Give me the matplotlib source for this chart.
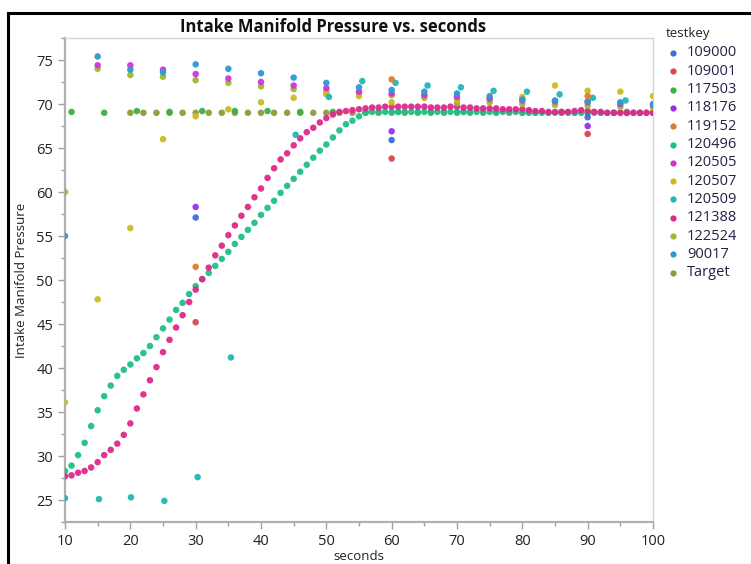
import matplotlib
matplotlib.use("Agg")
import matplotlib.pyplot as plt
import numpy as np
from matplotlib.lines import Line2D

plt.rcParams['font.family'] = ['Liberation Sans Narrow', 'Open Sans', 'DejaVu Sans']

# per-second runs
sec_1s = list(range(10, 101))
ip_121388 = [27.7, 27.8, 28.1, 28.3, 28.7, 29.3, 30.1, 30.7, 31.4, 32.4,
             33.7, 35.4, 37.0, 38.6, 40.1, 41.8, 43.2, 44.6, 46.0, 47.5,
             48.9, 50.1, 51.4, 52.8, 53.9, 55.1, 56.2, 57.3, 58.3, 59.4,
             60.4, 61.6, 62.7, 63.7, 64.4, 65.3, 66.1, 66.8, 67.3, 67.9,
             68.4, 68.8, 69.1, 69.2, 69.3, 69.4, 69.5, 69.6, 69.6, 69.7,
             69.7, 69.7, 69.7, 69.7, 69.7, 69.7, 69.6, 69.6, 69.6, 69.7,
             69.7, 69.6, 69.6, 69.5, 69.5, 69.5, 69.5, 69.4, 69.4, 69.4,
             69.4, 69.3, 69.2, 69.2, 69.1, 69.1, 69.1, 69.1, 69.2, 69.3,
             69.2, 69.1, 69.1, 69.0, 69.0, 69.0, 69.0, 69.0, 69.0, 69.0, 69.0]
ip_120496 = [28.3, 28.9, 30.1, 31.5, 33.4, 35.2, 36.8, 38.0, 39.1, 39.8,
             40.4, 41.1, 41.7, 42.5, 43.5, 44.5, 45.5, 46.6, 47.4, 48.4,
             49.3, 50.1, 50.8, 51.6, 52.4, 53.2, 54.1, 54.9, 55.7, 56.5,
             57.4, 58.2, 59.0, 59.9, 60.7, 61.5, 62.3, 63.1, 63.9, 64.7,
             65.4, 66.2, 67.0, 67.7, 68.1, 68.6, 69.0, 69.1, 69.1, 69.1,
             69.1, 69.1, 69.1, 69.1, 69.1, 69.1, 69.1, 69.1, 69.1, 69.1,
             69.1, 69.1, 69.1, 69.1, 69.1, 69.1, 69.1, 69.1, 69.1, 69.1,
             69.0, 69.0, 69.0, 69.0, 69.0, 69.0, 69.0, 69.0, 69.0, 69.0,
             69.0, 69.0, 69.0, 69.0, 69.0, 69.0, 69.0, 69.0, 69.0, 69.0, 69.0]

# 5-second runs
sec_5s = [10, 15, 20, 25, 30, 35, 40, 45, 50, 55, 60, 65, 70, 75, 80, 85, 90, 95, 100]
ip_90017 = [55.0, 75.4, 73.9, 73.6, 74.5, 74.0, 73.5, 73.0, 72.4, 71.9,
            71.6, 71.4, 71.2, 70.9, 70.5, 70.4, 70.3, 70.2, 70.0]
ip_122524 = [60.0, 74.0, 73.3, 73.1, 72.7, 72.4, 72.0, 71.7, 71.4, 71.2,
             71.0, 70.7, 70.1, 70.2, 70.0, 69.9, 69.8, 69.7, 69.6]
ip_120507 = [36.1, 47.8, 55.9, 66.0, 68.6, 69.4, 70.2, 70.7, 71.1, 70.9,
             70.2, 70.9, 70.5, 70.6, 70.8, 72.1, 71.5, 71.4, 70.9]
sec_120505 = [15, 20, 25, 30, 35, 40, 45, 50, 55, 60, 65, 70, 75, 80, 85, 90, 95, 100]
ip_120505 = [74.4, 74.4, 73.9, 73.4, 72.9, 72.5, 72.1, 71.8, 71.4, 71.2,
             71.0, 70.8, 70.6, 70.4, 70.3, 70.2, 70.0, 69.9]

sec_120509 = [10.0, 15.2, 20.1, 25.2, 30.3, 35.4, 45.3, 50.4, 55.5, 60.6,
              65.5, 70.6, 75.6, 80.7, 85.7, 90.8, 95.8]
ip_120509 = [25.2, 25.1, 25.3, 24.9, 27.6, 41.2, 66.5, 70.8, 72.6, 72.4,
             72.1, 71.9, 71.5, 71.4, 71.1, 70.7, 70.4]

sec_117503 = [11, 16, 21, 26, 31, 36, 41, 46, 51, 56, 61, 66, 71, 76, 81, 86, 91, 96]
ip_117503 = [69.1, 69.0, 69.2, 69.1, 69.2, 69.2, 69.2, 69.1, 69.1, 69.1,
             69.1, 69.1, 69.1, 69.1, 69.1, 69.1, 69.1, 69.1]

# sparse runs (30, 60, 90 s)
sec_sparse = [30, 60, 90]
ip_109000 = [57.1, 65.9, 68.5]
ip_109001 = [45.2, 63.8, 66.6]
ip_118176 = [58.3, 66.9, 67.5]
ip_119152 = [51.5, 72.8, 70.9]

sec_target = list(range(20, 101, 2))
ip_target = [69.0] * len(sec_target)

series = [
    ("109000", sec_sparse, ip_109000, "#3f6cd6"),
    ("109001", sec_sparse, ip_109001, "#dc4452"),
    ("117503", sec_117503, ip_117503, "#3cb043"),
    ("118176", sec_sparse, ip_118176, "#9b30e6"),
    ("119152", sec_sparse, ip_119152, "#e07a2a"),
    ("120496", sec_1s, ip_120496, "#1fbf8a"),
    ("120505", sec_120505, ip_120505, "#cf35d6"),
    ("120507", sec_5s, ip_120507, "#cdbb1f"),
    ("120509", sec_120509, ip_120509, "#23b5b8"),
    ("121388", sec_1s, ip_121388, "#e0288c"),
    ("122524", sec_5s, ip_122524, "#9dbb2c"),
    ("90017", sec_5s, ip_90017, "#2a9ad2"),
    ("Target", sec_target, ip_target, "#8f9b3a"),
]

# draw order: target first, sparse runs on top
draw_order = ["Target", "117503", "120496", "121388", "122524", "120507",
              "120505", "90017", "120509", "119152", "118176", "109000", "109001"]

fig = plt.figure(figsize=(7.51, 5.64), dpi=100, facecolor="white")
ax = fig.add_axes([65 / 751, 1 - 522 / 564, (653 - 65) / 751, (522 - 38) / 564])

lookup = {s[0]: s for s in series}
for name in draw_order:
    _, xs, ys, c = lookup[name]
    ax.scatter(xs, ys, s=22, color=c, edgecolors="none", alpha=0.95, zorder=3)

ax.set_xlim(10, 100)
ax.set_ylim(22.85, 77.5)
ax.set_xticks(np.arange(10, 101, 10))
ax.set_xticks(np.arange(15, 100, 10), minor=True)
ax.set_yticks(np.arange(25, 76, 5))
ax.set_yticks(np.arange(22.5, 77.6, 2.5), minor=True)

for side in ["top", "right"]:
    ax.spines[side].set_color("#d4d4d4")
    ax.spines[side].set_linewidth(1.0)
for side in ["left", "bottom"]:
    ax.spines[side].set_color("#b0b0b0")
    ax.spines[side].set_linewidth(1.6)

ax.tick_params(which="major", length=5, color="#a0a0a0", labelsize=10.5,
               labelcolor="#222222", width=1)
ax.tick_params(which="minor", length=3, color="#a0a0a0", width=1)

ax.set_xlabel("seconds", fontsize=9.5, color="#222222", labelpad=1)
ax.set_ylabel("Intake Manifold Pressure", fontsize=9.5, color="#222222", labelpad=6)

fig.text(333 / 751, 1 - 27 / 564, "Intake Manifold Pressure vs. seconds",
         ha="center", va="center", fontsize=12, fontweight="bold", color="#111111")

# legend
fig.text(666 / 751, 1 - 33 / 564, "testkey", ha="left", va="center",
         fontsize=9.5, color="#222222")
for i, (name, _, _, c) in enumerate(series):
    yy = 1 - (53 + i * 18.3) / 564
    fig.add_artist(Line2D([673 / 751], [yy], marker="o", markersize=4.5,
                          color=c, linestyle="none", markeredgewidth=0))
    fig.text(687 / 751, yy, name, ha="left", va="center", fontsize=10.5,
             color="#222244")

# black frame around the report
fig.add_artist(Line2D([8 / 751, 8 / 751], [0, 1 - 13 / 564], color="black", lw=2.2))
fig.add_artist(Line2D([8 / 751, 1], [1 - 13 / 564, 1 - 13 / 564], color="black", lw=2.2))

fig.savefig("out.png", dpi=100, facecolor="white")
